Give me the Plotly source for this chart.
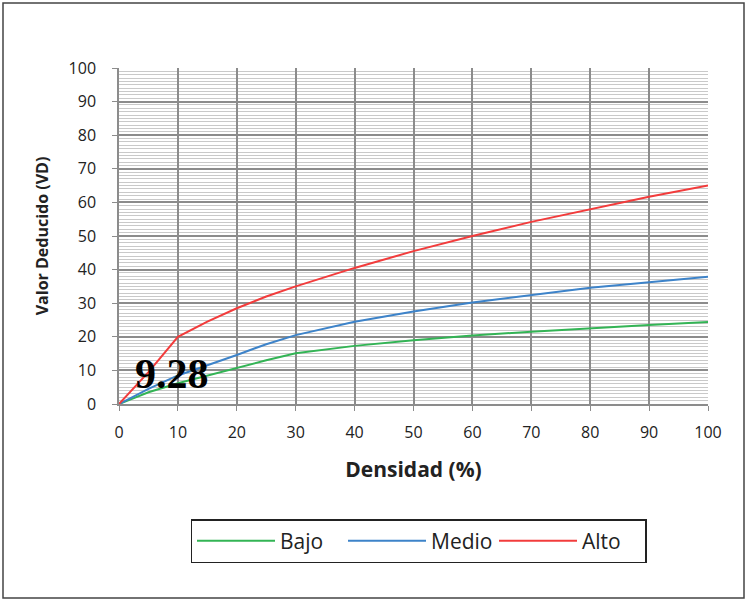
import plotly.graph_objects as go

densidad = [0, 5, 10, 15, 20, 25, 30, 40, 50, 60, 70, 80, 90, 100]
bajo = [0, 3.5, 6.2, 8.5, 10.6, 13.0, 15.1, 17.3, 19.0, 20.4, 21.5, 22.6, 23.5, 24.4]
medio = [0, 4.5, 8.5, 11.5, 14.6, 17.8, 20.5, 24.5, 27.5, 30.2, 32.4, 34.6, 36.2, 37.9]
alto = [0, 9.5, 20.0, 24.5, 28.5, 32.0, 35.0, 40.5, 45.5, 50.0, 54.2, 58.0, 61.7, 65.0]
series_names = ["Bajo", "Medio", "Alto"]
series_colors = ["#33b455", "#3d83c9", "#f23c3c"]
label_text = "9.28"
label_x, label_y = 9, 9

fig = go.Figure()
for name, vals, col in zip(series_names, [bajo, medio, alto], series_colors):
    fig.add_trace(go.Scatter(x=densidad, y=vals, mode="lines", name=name,
                             line=dict(color=col, width=2)))

L, R, T, B = 119, 40, 68, 198
W, H = 748, 602
pw, ph = W - L - R, H - T - B
FONT = "Open Sans, Liberation Sans, sans-serif"

fig.update_layout(
    width=W, height=H,
    margin=dict(l=L, r=R, t=T, b=B),
    paper_bgcolor="white", plot_bgcolor="white",
    font=dict(family=FONT, color="#222"),
    showlegend=True,
    legend=dict(orientation="h", x=0.5085, xanchor="center", y=-0.408, yanchor="middle",
                bordercolor="#222", borderwidth=1.5, font=dict(size=21, color="#222"),
                entrywidth=58, entrywidthmode="pixels", itemwidth=78),
)
fig.update_xaxes(range=[0, 100], dtick=10, tick0=0, showgrid=True, gridcolor="#8c8c8c",
                 gridwidth=1.5, ticks="outside", ticklen=5, tickcolor="#8c8c8c",
                 showline=True, linecolor="#8c8c8c", linewidth=1.5, zeroline=False,
                 tickfont=dict(size=16, color="#222"), ticklabelstandoff=8,
                 title=dict(text="<b>Densidad (%)</b>", font=dict(size=21, color="#222"), standoff=20))
fig.update_yaxes(range=[0, 100], dtick=10, tick0=0, showgrid=True, gridcolor="#8c8c8c",
                 gridwidth=1.5, ticks="outside", ticklen=5, tickcolor="#8c8c8c",
                 showline=True, linecolor="#8c8c8c", linewidth=1.5, zeroline=False,
                 minor=dict(dtick=1, showgrid=True, gridcolor="#c9c9c9", gridwidth=1),
                 tickfont=dict(size=16, color="#222"), ticklabelstandoff=13,
                 title=dict(text="<b>Valor Deducido (VD)</b>", font=dict(size=16, color="#222"), standoff=16))

fig.add_annotation(x=label_x, y=label_y, xref="x", yref="y", text="<b>" + label_text + "</b>",
                   showarrow=False, font=dict(family="Liberation Serif, serif", size=42, color="black"))

fig.add_shape(type="rect", xref="paper", yref="paper",
              x0=(3 - L) / pw, x1=(744 - L) / pw, y0=(H - B - 598) / ph, y1=(H - B - 3) / ph,
              line=dict(color="#444", width=1.5), layer="below")

fig.write_html("out.html", config={"displayModeBar": False},
               post_script="document.body.style.margin='0';")
